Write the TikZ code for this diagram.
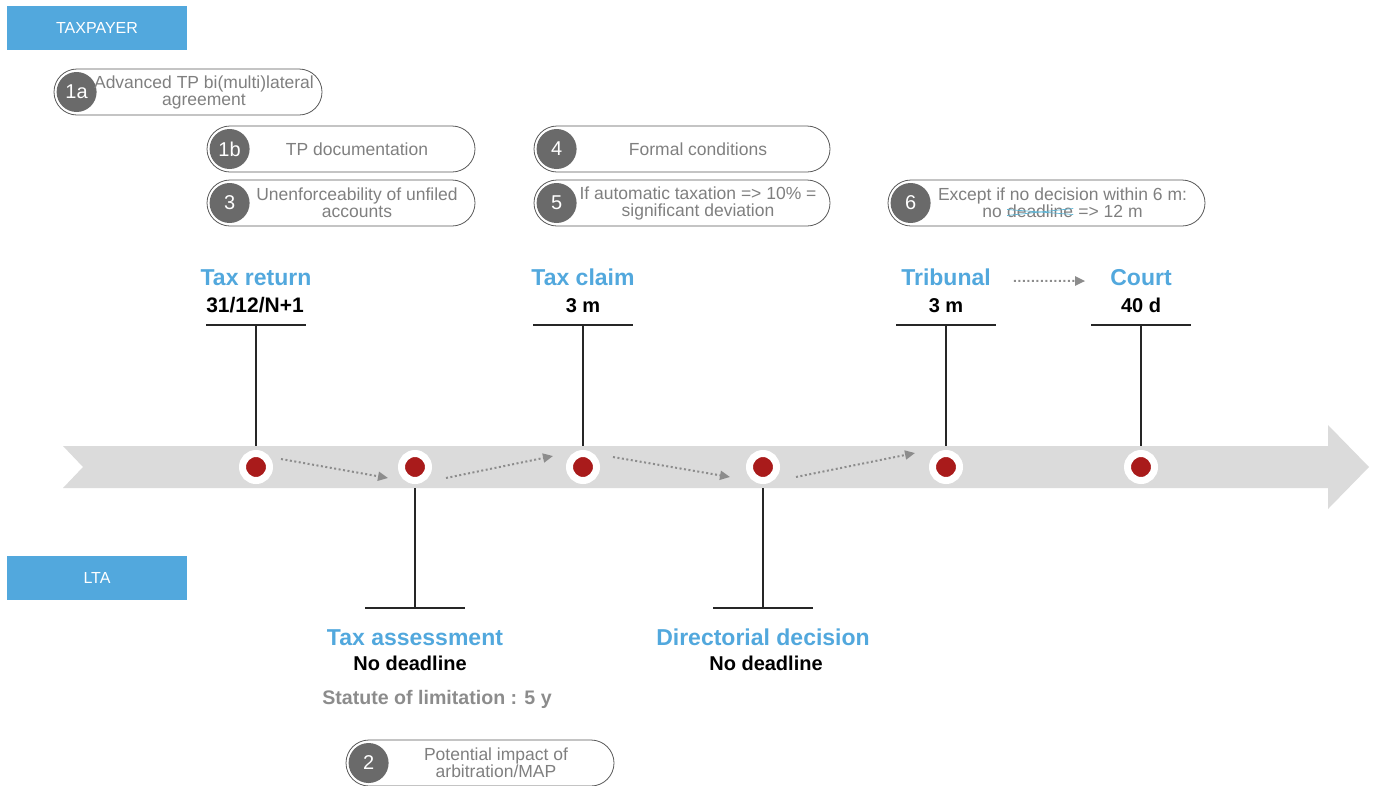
\documentclass[tikz,border=0pt]{standalone}
\usepackage{fontspec}
\setmainfont{Liberation Sans}
\usetikzlibrary{arrows.meta,calc}

\definecolor{laneblue}{HTML}{52A8DD}
\definecolor{dotred}{HTML}{A91B1B}
\definecolor{bandgray}{HTML}{DBDBDB}
\definecolor{numgray}{HTML}{6A6A6A}
\definecolor{pillgray}{HTML}{7F7F7F}
\definecolor{strikeblue}{HTML}{5BB5D6}

% crossed-out word inside a note
\newcommand{\struckword}[1]{\tikz[baseline=(w.base)]{\node[inner sep=0pt, outer sep=0pt] (w) {#1};
  \draw[strikeblue, line width=0.7pt] ([yshift=2pt]w.west) -- ([yshift=-3pt]w.east);
  \draw[strikeblue, line width=0.7pt] ([yshift=-4pt]w.west) -- ([yshift=3pt]w.east);}}

\begin{document}
\begin{tikzpicture}[x=1pt, y=-1pt,
    lane/.style={fill=laneblue, minimum width=180pt, minimum height=44pt, inner sep=0pt, text=white, font=\fontsize{16}{18}\selectfont},
    title/.style={anchor=base, inner sep=0pt, text=laneblue, font=\bfseries\fontsize{23}{26}\selectfont},
    due/.style={anchor=base, inner sep=0pt, font=\bfseries\fontsize{20}{22}\selectfont},
    event/.style={circle, fill=dotred, draw=white, line width=7pt, minimum size=27pt, inner sep=0pt, outer sep=0pt},
    stem/.style={line width=1.4pt, black!85},
    flow/.style={draw=black!45, line width=2pt, dash pattern=on 2pt off 2.5pt, -{Triangle[length=10pt,width=9pt]}},
    pill/.style={draw=black!65, line width=0.8pt, rounded corners=23pt, minimum height=46pt, inner sep=0pt},
    num/.style={circle, fill=numgray, text=white, minimum size=40pt, inner sep=0pt, font=\fontsize{20}{20}\selectfont},
    pilltext/.style={text=pillgray, align=center, inner sep=0pt, font=\fontsize{17.5}{17}\selectfont}]

  \useasboundingbox (0,0) rectangle (1375,785);

  \node[lane] (taxpayer) at (97,28) {TAXPAYER};
  \node[lane] (lta) at (97,578) {LTA};

  % time band
  \fill[bandgray] (63,446) -- (1328,446) -- (1328,425) -- (1369,467) -- (1328,509)
    -- (1328,488) -- (63,488) -- (83,467) -- cycle;

  \foreach \d/\x in {d1/256, d2/415, d3/583, d4/763, d5/946, d6/1141}
    \node[event] (\d) at (\x,467) {};

  % taxpayer side
  \node[title] (taxreturn) at (256,285) {Tax return};
  \node[due, font=\bfseries\fontsize{21}{22}\selectfont] (taxreturndue) at (255,312) {31/12/N+1};
  \coordinate (b1) at (256,325);
  \draw[stem] ([xshift=-50pt]b1) -- ([xshift=50pt]b1);
  \draw[stem, shorten >=21pt] (b1) -- (d1.center);

  \node[title] (taxclaim) at (583,285) {Tax claim};
  \node[due] (taxclaimdue) at (583,312) {3 m};
  \coordinate (b3) at (583,325);
  \draw[stem] ([xshift=-50pt]b3) -- ([xshift=50pt]b3);
  \draw[stem, shorten >=21pt] (b3) -- (d3.center);

  \node[title] (tribunal) at (946,285) {Tribunal};
  \node[due] (tribunaldue) at (946,312) {3 m};
  \coordinate (b5) at (946,325);
  \draw[stem] ([xshift=-50pt]b5) -- ([xshift=50pt]b5);
  \draw[stem, shorten >=21pt] (b5) -- (d5.center);

  \node[title] (court) at (1141,285) {Court};
  \node[due] (courtdue) at (1141,312) {40 d};
  \coordinate (b6) at (1141,325);
  \draw[stem] ([xshift=-50pt]b6) -- ([xshift=50pt]b6);
  \draw[stem, shorten >=21pt] (b6) -- (d6.center);

  % administration side
  \coordinate (b2) at (415,608);
  \draw[stem] ([xshift=-50pt]b2) -- ([xshift=50pt]b2);
  \draw[stem, shorten <=21pt] (d2.center) -- (b2);
  \node[title] (assessment) at (415,645) {Tax assessment};
  \node[due] (assessmentdue) at (410,670) {No deadline};
  \node[due, text=black!45, font=\bfseries\fontsize{19.6}{22}\selectfont] (statute) at (437,704) {Statute of limitation : 5 y};

  \coordinate (b4) at (763,608);
  \draw[stem] ([xshift=-50pt]b4) -- ([xshift=50pt]b4);
  \draw[stem, shorten <=21pt] (d4.center) -- (b4);
  \node[title] (directorial) at (763,645) {Directorial decision};
  \node[due] (directorialdue) at (766,670) {No deadline};

  % sequence
  \draw[flow] ($(d1)+(25,-8)$) -- ($(d2)+(-27,11)$);
  \draw[flow] ($(d2)+(31,11)$) -- ($(d3)+(-30,-11)$);
  \draw[flow] ($(d3)+(30,-10)$) -- ($(d4)+(-33,10)$);
  \draw[flow] ($(d4)+(33,10)$) -- ($(d5)+(-31,-14)$);
  \draw[flow, shorten <=23pt, shorten >=25pt] ([yshift=-4pt]tribunal.east) -- ([yshift=-4pt]court.west);

  % numbered notes
  \foreach \id/\px/\py/\w/\txt in {
      1a/188/92/268/{Advanced TP bi(multi)lateral\\agreement},
      1b/341/149/268/{TP documentation},
      3/341/203/268/{Unenforceability of unfiled\\accounts},
      4/682/149/296/{Formal conditions},
      5/682/203/296/{If automatic taxation => 10\% =\\significant deviation},
      6/1046.5/203/317/{Except if no decision within 6 m:\\no \struckword{deadline} => 12 m},
      2/480/763/268/{Potential impact of\\arbitration/MAP}}{
    \node[pill, minimum width=\w pt] (p\id) at (\px,\py) {};
    \node[num] (n\id) at ([xshift=23pt]p\id.west) {\id};
    \node[pilltext] (t\id) at ([xshift=16pt]p\id.center) {\txt};
  }
\end{tikzpicture}
\end{document}
